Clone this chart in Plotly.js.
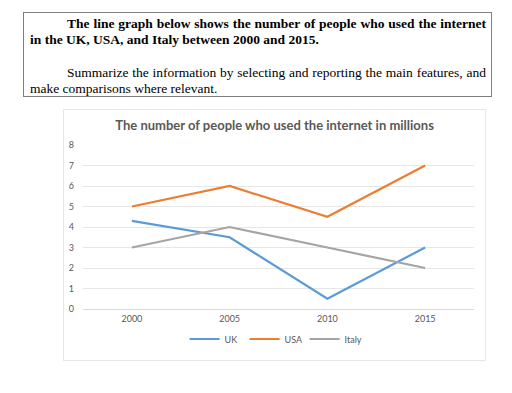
<!DOCTYPE html>
<html>
<head>
<meta charset="utf-8">
<script src="https://cdn.plot.ly/plotly-3.0.1.min.js"></script>
<style>
  html, body { margin: 0; padding: 0; background: #fff; }
  #wrap { position: relative; width: 512px; height: 393px; overflow: hidden; }
  #chart { position: absolute; left: 0; top: 0; width: 512px; height: 393px; }
  #prompt {
    position: absolute; left: 23px; top: 12px; width: 456px; height: 74px;
    border: 1px solid #7f7f7f; padding: 3px 5px 6px 6px;
    font-family: "Liberation Serif", "Times New Roman", serif; font-size: 13.5px;
    line-height: 16px; color: #000; text-align: justify; box-sizing: content-box;
  }
  #prompt p { margin: 0; text-indent: 37px; }
  #prompt p.b { font-weight: bold; margin-bottom: 17px; }
  #frame {
    position: absolute; left: 63px; top: 109px; width: 421px; height: 250px;
    border: 1px solid #e6e6e6; pointer-events: none;
  }
</style>
</head>
<body>
<div id="wrap">
  <div id="chart"></div>
  <div id="frame"></div>
  <div id="prompt">
    <p class="b">The line graph below shows the number of people who used the internet in the UK, USA, and Italy between 2000 and 2015.</p>
    <p>Summarize the information by selecting and reporting the main features, and make comparisons where relevant.</p>
  </div>
</div>
<script>
const years = ["2000", "2005", "2010", "2015"];
const uk = [4.3, 3.5, 0.5, 3];
const usa = [5, 6, 4.5, 7];
const italy = [3, 4, 3, 2];
const seriesNames = ["UK", "USA", "Italy"];
const seriesColors = ["#5B9BD5", "#ED7D31", "#A5A5A5"];
const yTicks = [0, 1, 2, 3, 4, 5, 6, 7, 8];

const data = [uk, usa, italy].map((vals, i) => ({
  type: "scatter", mode: "lines", x: years, y: vals, name: seriesNames[i],
  line: { color: seriesColors[i], width: 2.2 }
}));

const layout = {
  width: 512, height: 393,
  margin: { l: 83, r: 38, t: 145, b: 84 },
  paper_bgcolor: "#fff", plot_bgcolor: "#fff",
  font: { family: "Lato, 'Open Sans', sans-serif", color: "#595959", size: 9 },
  title: {
    text: "<b>The number of people who used the internet in millions</b>",
    font: { family: "Lato, 'Open Sans', sans-serif", size: 13, color: "#595959" },
    x: 0.49, xanchor: "center", xref: "paper", y: 1 - 125 / 393, yanchor: "middle", yref: "container"
  },
  xaxis: {
    type: "category", tickvals: years, range: [-0.5, years.length - 0.5], showgrid: false, zeroline: false,
    showline: true, linecolor: "#d9d9d9", linewidth: 1, ticks: "",
    tickfont: { size: 9, color: "#595959" }, ticklabelstandoff: 1, fixedrange: true
  },
  yaxis: {
    range: [0, 8], tickvals: yTicks, showgrid: true, gridcolor: "#e6e6e6", gridwidth: 1,
    zeroline: false, showline: false, ticks: "", tickfont: { size: 9, color: "#595959" },
    ticklabelstandoff: 8, fixedrange: true
  },
  showlegend: true,
  legend: {
    orientation: "h", x: 0.49, xanchor: "center", y: -0.183, yanchor: "middle",
    font: { size: 9, color: "#595959" }, entrywidth: 15, entrywidthmode: "pixels", tracegroupgap: 0
  }
};

Plotly.newPlot("chart", data, layout, { staticPlot: true, displayModeBar: false });
</script>
</body>
</html>
